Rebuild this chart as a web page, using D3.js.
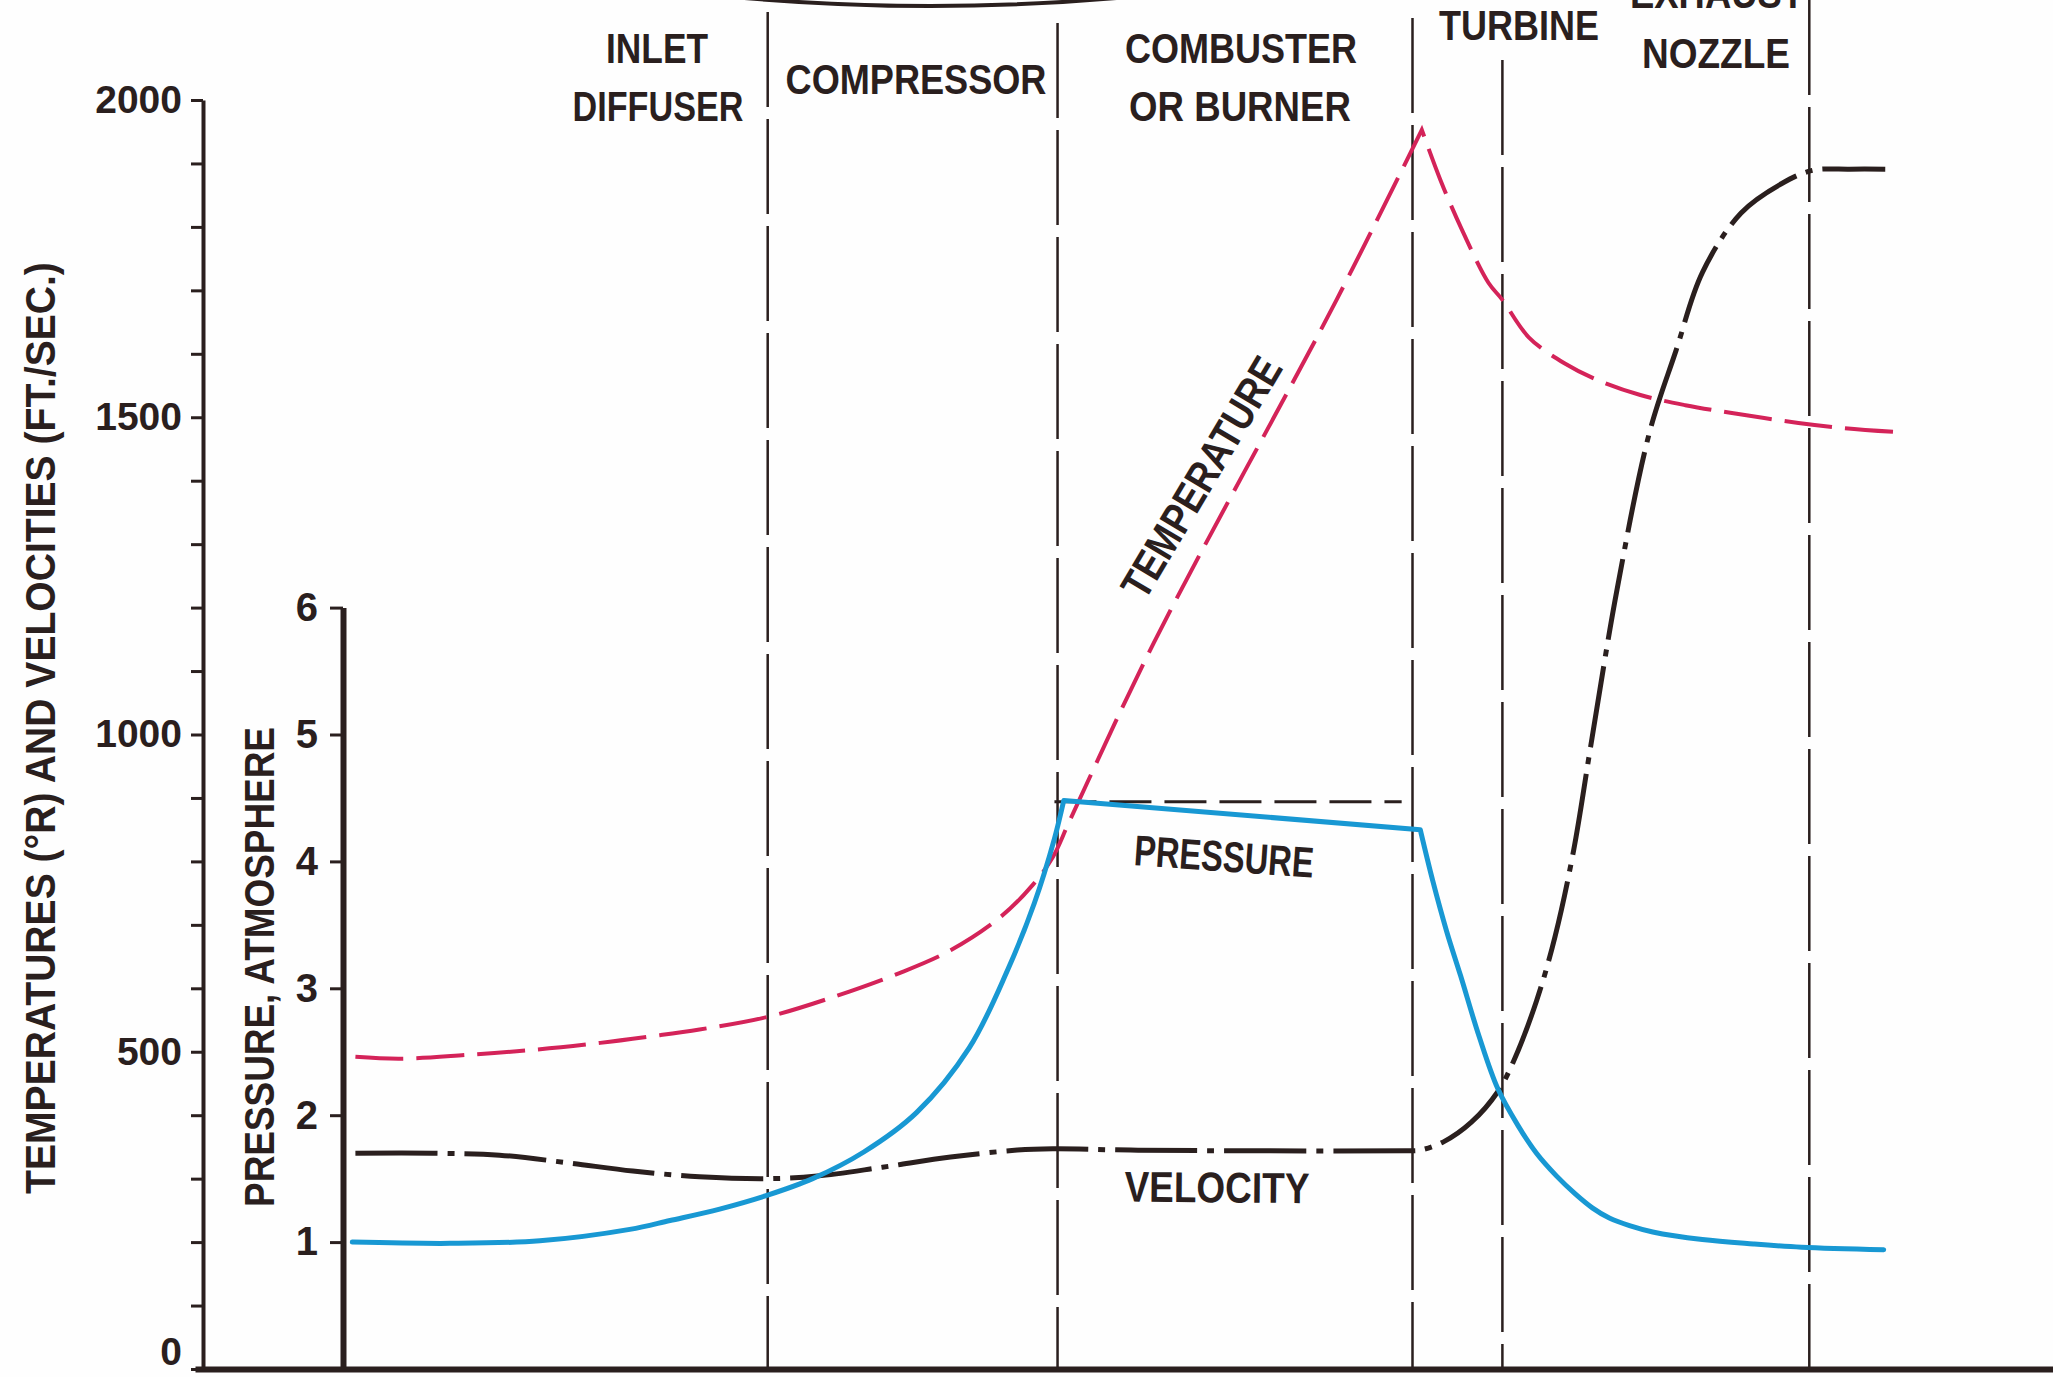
<!DOCTYPE html>
<html>
<head>
<meta charset="utf-8">
<script src="https://cdn.jsdelivr.net/npm/d3@7"></script>
<style>
  html, body { margin: 0; padding: 0; background: #ffffff; }
  svg { display: block; }
</style>
</head>
<body>
<svg id="chart" width="2053" height="1377"></svg>
<script>
// ================= DATA =================
// x = position along the engine, 0 = start of the flow (pressure axis), 100 = exit
const sectionNames = [["INLET", "DIFFUSER"], ["COMPRESSOR"], ["COMBUSTER", "OR BURNER"], ["TURBINE"], ["EXHAUST", "NOZZLE"]];
const sectionBoundaries = [27.4, 46.1, 69.0, 74.8, 94.6];

const tempTicks = [0, 500, 1000, 1500, 2000];
const tempMinorStep = 100;
const pressureTicks = [1, 2, 3, 4, 5, 6];

// Temperature (deg R)
const temperatureX = [0.8, 3.7, 8.0, 12.3, 16.6, 19.8, 23.0, 27.4, 31.6, 35.9, 39.2, 42.4, 44.5, 45.8, 46.9, 52.3, 64.1, 69.6, 70.8, 72.2, 73.9, 74.8, 76.5, 78.8, 80.9, 83.7, 86.6, 89.5, 93.9, 96.8, 100.0];
const temperatureV = [492, 489, 495, 503, 514, 524, 535, 555, 586, 624, 660, 712, 763, 807, 865, 1144, 1685, 1953, 1874, 1795, 1712, 1685, 1626, 1585, 1559, 1535, 1519, 1507, 1491, 1483, 1477];

// Pressure (atmospheres)
const pressureX = [0.6, 6.9, 12.7, 18.5, 21.1, 24.3, 27.4, 30.3, 33.6, 37.0, 40.4, 42.9, 44.6, 45.9, 46.5, 69.5, 70.3, 71.2, 72.1, 73.3, 74.5, 75.8, 77.0, 78.3, 79.5, 80.6, 81.7, 83.0, 84.5, 87.7, 91.0, 94.1, 99.4];
const pressureV = [1.00, 0.99, 1.01, 1.10, 1.17, 1.26, 1.37, 1.50, 1.71, 2.02, 2.53, 3.15, 3.67, 4.18, 4.48, 4.25, 3.85, 3.45, 3.10, 2.62, 2.21, 1.92, 1.70, 1.52, 1.38, 1.27, 1.19, 1.13, 1.08, 1.02, 0.985, 0.96, 0.94];
const pressureCorners = [46.5, 69.5];   // sharp corners of the pressure trace

// Ideal (constant) combustor pressure, dashed reference
const combustorPressureX = [45.9, 68.3];
const combustorPressureV = [4.47, 4.47];

// Velocity (ft/sec)
const velocityX = [0.8, 5.8, 10.1, 14.5, 18.7, 23.0, 27.4, 30.6, 34.8, 39.2, 43.5, 45.8, 50.8, 57.2, 68.6, 69.5, 71.0, 72.8, 74.5, 75.5, 77.0, 78.2, 79.4, 80.5, 82.2, 84.3, 86.0, 87.7, 90.2, 92.8, 94.8, 97.2, 99.5];
const velocityV = [340, 340, 337, 325, 312, 303, 300, 304, 318, 334, 345, 347, 345, 344, 344, 345, 358, 389, 437, 484, 580, 682, 818, 982, 1229, 1477, 1605, 1728, 1822, 1868, 1889, 1891, 1891];

// ================= LAYOUT / STYLE =================
const W = 2053, H = 1377;
const INK = "#2a1f1e";
const RED = "#d42359";
const BLUE = "#1898d3";
const FONT = "'Liberation Sans', Arial, Helvetica, sans-serif";

const layout = {
  leftAxisX: 203, pressureAxisX: 343, baselineLeft: 195,
  xRange: [343, 1893], yZero: 1369, yTop: 100,
  sectionTop: [12, 23, 18, 60, 0]
};

const labelSize = 43;
const sectionLabelLayout = [
  { cx: [657, 658], cy: [47.5, 105.5], w: [102, 171] },
  { cx: [916], cy: [78.5], w: [261] },
  { cx: [1241, 1240], cy: [47.5, 105.5], w: [232, 222] },
  { cx: [1519], cy: [25], w: [160] },
  { cx: [1717, 1716], cy: [-7.5, 52.5], w: [174, 148] }
];
const otherLabels = [
  { text: "TEMPERATURES (°R) AND VELOCITIES (FT./SEC.)", cx: 39.5, cy: 728, w: 932, angle: -90 },
  { text: "PRESSURE, ATMOSPHERE", cx: 259, cy: 967, w: 480, angle: -90 },
  { text: "TEMPERATURE", cx: 1201, cy: 477, w: 272, angle: -59.3 },
  { text: "PRESSURE", cx: 1224, cy: 856, w: 180, angle: 4 },
  { text: "VELOCITY", cx: 1217, cy: 1187, w: 185, angle: 0.5 }
];

// ================= DRAW =================
const svg = d3.select("#chart");
svg.append("rect").attr("width", W).attr("height", H).attr("fill", "#fefefe");

const x = d3.scaleLinear().domain([0, 100]).range(layout.xRange);
const yT = d3.scaleLinear().domain([0, 2000]).range([layout.yZero, layout.yTop]);
const yP = d3.scaleLinear().domain([0, 6]).range([yT(0), yT(1200)]);

// decorative bottom edge of the engine drawing, cut by the top of the page
const arc = d3.path();
arc.moveTo(733, -3);
arc.quadraticCurveTo(930, 15, 1128, -3);
svg.append("path").attr("d", arc.toString()).attr("fill", "none").attr("stroke", INK).attr("stroke-width", 4);

// section boundary lines
svg.append("g").selectAll("line").data(sectionBoundaries).join("line")
  .attr("x1", d => x(d)).attr("x2", d => x(d))
  .attr("y1", (d, i) => layout.sectionTop[i]).attr("y2", yT(0))
  .attr("stroke", INK).attr("stroke-width", 2.5).attr("stroke-dasharray", "95,12");

// left axis (temperature / velocity)
const gL = svg.append("g").attr("transform", `translate(${layout.leftAxisX},0)`)
  .call(d3.axisLeft(yT)
    .tickValues(d3.range(0, 2001, tempMinorStep))
    .tickSize(12).tickSizeOuter(0).tickPadding(9)
    .tickFormat(d => tempTicks.includes(d) ? d : ""));
gL.select(".domain").attr("stroke", INK).attr("stroke-width", 4);
gL.selectAll(".tick line").attr("stroke", INK).attr("stroke-width", 3);
gL.selectAll(".tick text").attr("font-size", 39).attr("font-weight", 700)
  .attr("font-family", FONT).attr("fill", INK);
gL.selectAll(".tick").filter(d => d === 0).select("text").attr("y", -17);

// pressure axis
const gP = svg.append("g").attr("transform", `translate(${layout.pressureAxisX},0)`)
  .call(d3.axisLeft(yP).tickValues(pressureTicks).tickFormat(d3.format("d"))
    .tickSize(13).tickSizeOuter(0).tickPadding(12));
gP.select(".domain").attr("stroke", INK).attr("stroke-width", 6);
gP.selectAll(".tick line").attr("stroke", INK).attr("stroke-width", 3);
gP.selectAll(".tick text").attr("font-size", 40).attr("font-weight", 700)
  .attr("font-family", FONT).attr("fill", INK);

// base line
const xBase = d3.scaleLinear().domain([x.invert(layout.baselineLeft), x.invert(W)]).range([layout.baselineLeft, W]);
const gB = svg.append("g").attr("transform", `translate(0,${yT(0)})`)
  .call(d3.axisBottom(xBase).tickValues([]).tickSizeOuter(0));
gB.select(".domain").attr("stroke", INK).attr("stroke-width", 6);

// helpers
const zip = (xs, vs) => xs.map((d, i) => [d, vs[i]]);
const smooth = d3.curveCatmullRom.alpha(0.5);
function joinSegments(paths) {
  return paths.map((p, i) => i === 0 ? p : p.replace(/^M/, "L")).join("");
}

// combustor ideal pressure (black dashed)
const lineP = d3.line().x(d => x(d[0])).y(d => yP(d[1]));
svg.append("path").attr("d", lineP(zip(combustorPressureX, combustorPressureV)))
  .attr("fill", "none").attr("stroke", INK).attr("stroke-width", 3).attr("stroke-dasharray", "42,13");

// temperature (sharp peak)
const tPts = zip(temperatureX, temperatureV);
const tPeak = d3.maxIndex(temperatureV);
const lineT = d3.line().x(d => x(d[0])).y(d => yT(d[1])).curve(smooth);
svg.append("path")
  .attr("d", joinSegments([lineT(tPts.slice(0, tPeak + 1)), lineT(tPts.slice(tPeak))]))
  .attr("fill", "none").attr("stroke", RED).attr("stroke-width", 4)
  .attr("stroke-dasharray", "48,13");

// velocity (dash-dot)
svg.append("path").attr("d", lineT(zip(velocityX, velocityV)))
  .attr("fill", "none").attr("stroke", INK).attr("stroke-width", 5)
  .attr("stroke-dasharray", "82,10,7,10");

// pressure (solid blue, two sharp corners)
const pPts = zip(pressureX, pressureV);
const pRise = pPts.filter(d => d[0] <= pressureCorners[0]);
const pFlat = pPts.filter(d => d[0] >= pressureCorners[0] && d[0] <= pressureCorners[1]);
const pDrop = pPts.filter(d => d[0] >= pressureCorners[1]);
const linePc = d3.line().x(d => x(d[0])).y(d => yP(d[1])).curve(smooth);
svg.append("path").attr("d", joinSegments([linePc(pRise), lineP(pFlat), linePc(pDrop)]))
  .attr("fill", "none").attr("stroke", BLUE).attr("stroke-width", 5)
  .attr("stroke-linejoin", "round").attr("stroke-linecap", "round");

// text labels fitted to their measured widths
const gT = svg.append("g");
function fitLabel(str, cx, cy, width, angle) {
  const t = gT.append("text").text(str)
    .attr("font-family", FONT).attr("font-weight", 700).attr("font-size", labelSize)
    .attr("fill", INK).attr("text-anchor", "middle")
    .attr("dy", (0.716 * labelSize / 2).toFixed(2));
  const len = t.node().getComputedTextLength();
  const k = width / len;
  t.attr("transform", `translate(${cx},${cy}) rotate(${angle}) scale(${k.toFixed(4)},1)`);
}
sectionNames.forEach((lines, i) => {
  const L = sectionLabelLayout[i];
  lines.forEach((s, j) => fitLabel(s, L.cx[j], L.cy[j], L.w[j], 0));
});
otherLabels.forEach(l => fitLabel(l.text, l.cx, l.cy, l.w, l.angle));
</script>
</body>
</html>
